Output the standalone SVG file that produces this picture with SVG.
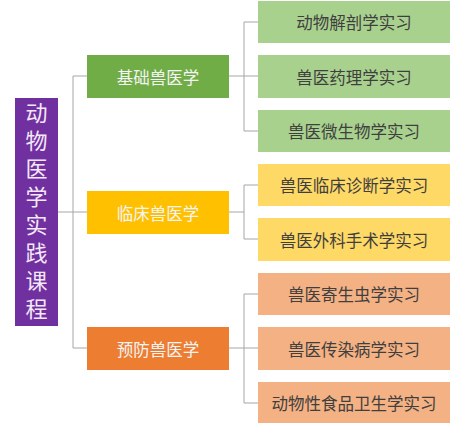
<svg xmlns="http://www.w3.org/2000/svg" width="465" height="425" viewBox="0 0 465 425">
<style>
text{font-family:"Noto Sans CJK SC","Noto Sans",sans-serif;text-anchor:middle;dominant-baseline:central}
.root{fill:#7030A0}
.rt{fill:#F4E8F8;font-size:22px;writing-mode:vertical-rl;letter-spacing:5.9px}
.l1t{fill:#F4F4F4;font-size:16.5px}
.l2t{fill:#3F3F3F;font-size:16.5px}
.g1{fill:#70AD47}.g2{fill:#A9D18E}
.y1{fill:#FFC000}.y2{fill:#FFD966}
.o1{fill:#ED7D31}.o2{fill:#F4B183}
.c{stroke:#A6A6A6;stroke-width:1;fill:none}
</style>
<rect width="465" height="425" fill="#FFFFFF"/>
<g id="connectors">
<path class="c" d="M58 212H87M73 76V348M73 76H87M73 348H87"/>
<path class="c" d="M229 76H258M244 22V131M244 22H258M244 131H258"/>
<path class="c" d="M229 212H244M244 185V239M244 185H258M244 239H258"/>
<path class="c" d="M229 348H258M244 294V403M244 294H258M244 403H258"/>
</g>
<g id="root">
<rect class="root" x="15" y="98" width="43" height="228"/>
<text class="rt" x="36.5" y="213.5">动物医学实践课程</text>
</g>
<g id="basic">
<rect class="g1" x="87" y="55" width="142" height="43"/>
<text class="l1t" x="158" y="76.5">基础兽医学</text>
</g>
<g id="clinical">
<rect class="y1" x="87" y="191" width="142" height="43"/>
<text class="l1t" x="158" y="212.5">临床兽医学</text>
</g>
<g id="preventive">
<rect class="o1" x="87" y="327" width="142" height="43"/>
<text class="l1t" x="158" y="348.5">预防兽医学</text>
</g>
<g id="anatomy">
<rect class="g2" x="258" y="1" width="192" height="42"/>
<text class="l2t" x="354" y="22">动物解剖学实习</text>
</g>
<g id="pharmacology">
<rect class="g2" x="258" y="55" width="192" height="43"/>
<text class="l2t" x="354" y="76.5">兽医药理学实习</text>
</g>
<g id="microbiology">
<rect class="g2" x="258" y="110" width="192" height="42"/>
<text class="l2t" x="354" y="131">兽医微生物学实习</text>
</g>
<g id="diagnosis">
<rect class="y2" x="258" y="164" width="192" height="42"/>
<text class="l2t" x="354" y="185">兽医临床诊断学实习</text>
</g>
<g id="surgery">
<rect class="y2" x="258" y="218" width="192" height="43"/>
<text class="l2t" x="354" y="239.5">兽医外科手术学实习</text>
</g>
<g id="parasitology">
<rect class="o2" x="258" y="273" width="192" height="42"/>
<text class="l2t" x="354" y="294">兽医寄生虫学实习</text>
</g>
<g id="infectious">
<rect class="o2" x="258" y="327" width="192" height="43"/>
<text class="l2t" x="354" y="348.5">兽医传染病学实习</text>
</g>
<g id="foodhygiene">
<rect class="o2" x="258" y="382" width="192" height="41"/>
<text class="l2t" x="354" y="403">动物性食品卫生学实习</text>
</g>
</svg>
